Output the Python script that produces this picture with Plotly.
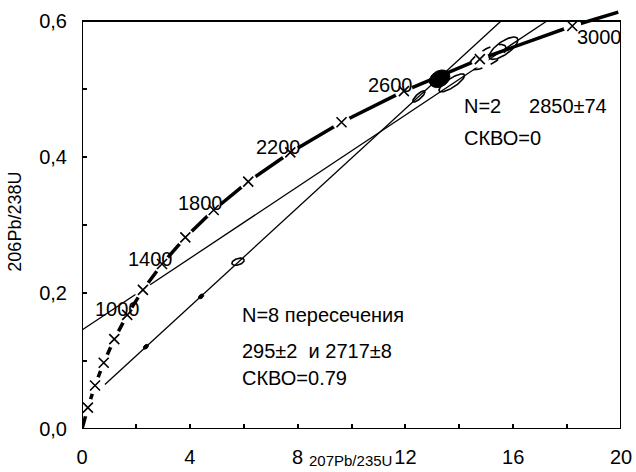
import numpy as np
import plotly.graph_objects as go

# ---------------- data ----------------
# Concordia points (age in Ma, 207Pb/235U, 206Pb/238U)
conc_age = [0, 200, 400, 600, 800, 1000, 1200, 1400, 1600, 1800, 2000,
            2200, 2400, 2600, 2800, 3000, 3086]
conc_x = [0.0, 0.218, 0.483, 0.806, 1.199, 1.677, 2.260, 2.970, 3.834,
          4.887, 6.168, 7.729, 9.630, 11.944, 14.762, 18.193, 19.90]
conc_y = [0.0, 0.0315, 0.0640, 0.0975, 0.1322, 0.1678, 0.2046, 0.2426,
          0.2817, 0.3221, 0.3638, 0.4067, 0.4511, 0.4968, 0.5440, 0.5926, 0.613]
label_ages = [1000, 1400, 1800, 2200, 2600, 3000]

# Discordia lines
disc_a_x = [0.0, 17.25]   # N=2, 2850±74
disc_a_y = [0.1455, 0.600]
disc_b_x = [0.85, 15.55]  # N=8, 295±2 and 2717±8
disc_b_y = [0.0654, 0.600]

# Error ellipses: x, sx, y, sy, rho, style
ell_x = [2.37, 4.42, 5.79, 12.50, 13.27, 13.72, 15.05, 15.64]
ell_sx = [0.097, 0.097, 0.229, 0.228, 0.382, 0.474, 0.688, 0.533]
ell_y = [0.121, 0.195, 0.246, 0.489, 0.515, 0.509, 0.547, 0.560]
ell_sy = [0.0036, 0.0036, 0.0053, 0.0083, 0.0130, 0.0132, 0.0185, 0.0164]
ell_rho = [0.38, 0.38, 0.40, 0.82, 0.27, 0.81, 0.70, 0.73]
ell_style = ["fill", "fill", "open", "open", "fill", "open", "dash", "open"]

x_ticks = [0, 4, 8, 12, 16, 20]
y_ticks = [0.0, 0.2, 0.4, 0.6]

FONT = "Arial, Liberation Sans, sans-serif"

fig = go.Figure()

# discordia lines
for xs, ys in [(disc_a_x, disc_a_y), (disc_b_x, disc_b_y)]:
    fig.add_trace(go.Scatter(x=xs, y=ys, mode="lines",
                             line=dict(color="black", width=1.3),
                             hoverinfo="skip", showlegend=False))

# concordia curve
fig.add_trace(go.Scatter(x=conc_x, y=conc_y, mode="lines",
                         line=dict(color="black", width=3.5),
                         hoverinfo="skip", showlegend=False))

# white gaps around age markers, then the markers
mx = conc_x[1:-1]
my = conc_y[1:-1]
fig.add_trace(go.Scatter(x=mx, y=my, mode="markers",
                         marker=dict(symbol="circle", size=18, color="white",
                                     line=dict(width=0)),
                         hoverinfo="skip", showlegend=False))
fig.add_trace(go.Scatter(x=mx, y=my, mode="markers",
                         marker=dict(symbol="x-thin", size=10,
                                     line=dict(color="black", width=1.6)),
                         hoverinfo="skip", showlegend=False))

# ellipses
t = np.linspace(0, 2 * np.pi, 80)
for cx, sx, cy, sy, r, st in zip(ell_x, ell_sx, ell_y, ell_sy, ell_rho, ell_style):
    ex = cx + sx * np.cos(t)
    ey = cy + sy * (r * np.cos(t) + np.sqrt(1 - r * r) * np.sin(t))
    if st == "fill":
        fig.add_trace(go.Scatter(x=ex, y=ey, mode="lines", fill="toself",
                                 fillcolor="black",
                                 line=dict(color="black", width=1),
                                 hoverinfo="skip", showlegend=False))
    else:
        fig.add_trace(go.Scatter(x=ex, y=ey, mode="lines",
                                 line=dict(color="black", width=1.6,
                                           dash="dash" if st == "dash" else "solid"),
                                 hoverinfo="skip", showlegend=False))

# frame
fig.add_shape(type="rect", xref="x", yref="y", x0=0, x1=20, y0=0, y1=0.6,
              line=dict(color="black", width=2), layer="above")

# age labels
label_shift = {1000: (-10, 6), 1400: (-12, 5), 1800: (-13, 7), 2200: (-12, 5),
               2600: (-13, 6), 3000: (27, -11)}
for a in label_ages:
    i = conc_age.index(a)
    dx, dy = label_shift[a]
    fig.add_annotation(x=conc_x[i], y=conc_y[i], text=str(a), showarrow=False,
                       xshift=dx, yshift=dy, font=dict(family=FONT, size=20, color="black"))

NB = "\u00a0"
texts = [
    ("N=2" + NB * 5 + "2850±74", 14.10, 0.475),
    ("СКВО=0", 14.10, 0.428),
    ("N=8 пересечения", 5.88, 0.168),
    ("295±2" + NB * 2 + "и 2717±8", 5.88, 0.114),
    ("СКВО=0.79", 5.88, 0.075),
]
for txt, x, y in texts:
    fig.add_annotation(x=x, y=y, text=txt, showarrow=False, xanchor="left",
                       yanchor="middle", font=dict(family=FONT, size=20, color="black"))

# axis titles
fig.add_annotation(xref="paper", yref="paper", x=-0.125, y=0.487, text="206Pb/238U",
                   textangle=-90, showarrow=False, xanchor="center", yanchor="middle",
                   font=dict(family=FONT, size=18, color="black"))
fig.add_annotation(xref="paper", yref="paper", x=0.498, y=-0.074, text="207Pb/235U",
                   showarrow=False, xanchor="center", yanchor="middle",
                   font=dict(family=FONT, size=15, color="black"))

fig.update_layout(
    width=636, height=472,
    margin=dict(l=82, r=13, t=4, b=43),
    paper_bgcolor="white", plot_bgcolor="white",
    separators=", ",
    font=dict(family=FONT, size=20, color="black"),
    xaxis=dict(range=[0, 20], tickvals=x_ticks, ticks="inside", ticklen=5,
               tickwidth=1.5, tickcolor="black", showgrid=False, zeroline=False,
               showline=False, ticklabelstandoff=14,
               minor=dict(tick0=0, dtick=2, ticks="inside", ticklen=5,
                          tickwidth=1.5, tickcolor="black", showgrid=False),
               tickfont=dict(family=FONT, size=20)),
    yaxis=dict(range=[0, 0.625], tickvals=y_ticks, tickformat=".1f",
               ticks="inside", ticklen=5, tickwidth=1.5, tickcolor="black",
               showgrid=False, zeroline=False, showline=False,
               ticklabelstandoff=14,
               minor=dict(tick0=0, dtick=0.1, ticks="inside", ticklen=5,
                          tickwidth=1.5, tickcolor="black", showgrid=False),
               tickfont=dict(family=FONT, size=20)),
)

fig.write_html("out.html")
